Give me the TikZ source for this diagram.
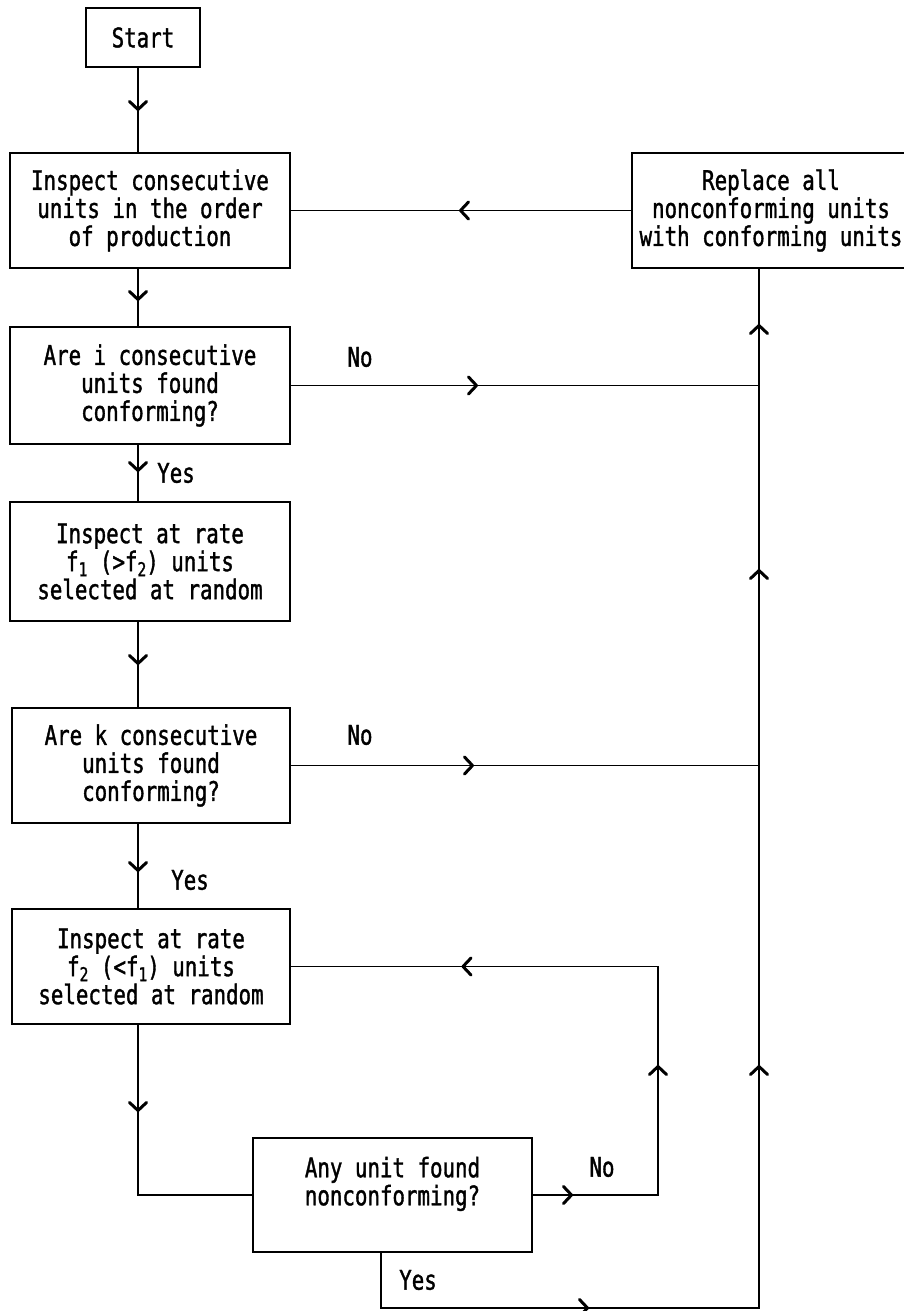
\documentclass[tikz,border=0pt]{standalone}
\usepackage{fontspec}
\newfontfamily\mono[FakeStretch=0.77,FakeBold=1.3]{DejaVu Sans Mono}
\usetikzlibrary{arrows.meta,decorations.markings}
\newcommand\lowsub[1]{\raisebox{-5pt}{\fontsize{19}{19}\selectfont #1}}
\begin{document}
\begin{tikzpicture}[x=1pt,y=-1pt,
  every node/.style={font=\mono\fontsize{27}{28}\selectfont},
  box/.style={draw,line width=2pt,align=center,inner sep=0pt,minimum width=280pt,minimum height=115pt},
  lbl/.style={inner sep=0pt},
  conn/.style={line width=1.9pt},
  am/.style={postaction={decorate,decoration={markings,mark=at position #1 with {\arrow{Straight Barb[length=8pt,width=17pt,line width=3pt,round]}}}}}
]
\useasboundingbox (0,0) rectangle (904,1311);
\coordinate (col) at (138,0);
\coordinate (rx) at (759,0);
\coordinate (lx) at (658,0);
\coordinate (yx) at (381,0);
\coordinate (bot) at (0,1308);

\node[box,minimum width=114pt,minimum height=59pt] (start) at (143,37.5) {Start};
\node[box] (b1) at (150,210.5) {Inspect consecutive\\units in the order\\of production};
\node[box,minimum width=278pt] (rep) at (771,210.5) {Replace all\\nonconforming units\\with conforming units};
\node[box,minimum height=117pt] (b2) at (150,385.5) {Are i consecutive\\units found\\conforming?};
\node[box,minimum height=119pt] (b3) at (150,561.5) {Inspect at rate\\f\lowsub{1} (>f\lowsub{2}) units\\selected at random};
\node[box,minimum width=278pt] (b4) at (151,765.5) {Are k consecutive\\units found\\conforming?};
\node[box,minimum width=278pt] (b5) at (151,966.5) {Inspect at rate\\f\lowsub{2} (<f\lowsub{1}) units\\selected at random};
\node[box,minimum width=279pt,minimum height=114pt] (b6) at (392.5,1195) {Any unit found\\nonconforming?\\\mbox{}};

\node[lbl] (yes1) at (176,473) {Yes};
\node[lbl] (yes2) at (190,880) {Yes};
\node[lbl] (yes3) at (418,1280) {Yes};
\node[lbl] (no1) at (360,357) {No};
\node[lbl] (no2) at (360,735) {No};
\node[lbl] (no3) at (602,1167) {No};

\draw[conn,am=43pt] (start.south -| col) -- (b1.north -| col);
\draw[conn,am=32pt] (b1.south -| col) -- (b2.north -| col);
\draw[conn,am=27pt] (b2.south -| col) -- (b3.north -| col);
\draw[conn,am=43pt] (b3.south -| col) -- (b4.north -| col);
\draw[conn,am=48pt] (b4.south -| col) -- (b5.north -| col);
\draw[conn,am=87pt] (b5.south -| col) -- (b6.west -| col) -- (b6.west);
\draw[conn,am=172pt] (rep.west) -- (b1.east);
\draw[conn,am=187pt] (b2.east) -- (b2.east -| rx);
\draw[conn,am=183pt] (b4.east) -- (b4.east -| rx);
\draw[conn,am=40pt,am=255pt,am=550pt] (b6.east) -- (b6.east -| lx) -- (b5.east -| lx) -- (b5.east);
\draw[conn,am=263pt,am=676pt,am=1172pt,am=1417pt] (b6.south -| yx) -- (bot -| yx) -- (bot -| rx) -- (rep.south -| rx);
\end{tikzpicture}
\end{document}
